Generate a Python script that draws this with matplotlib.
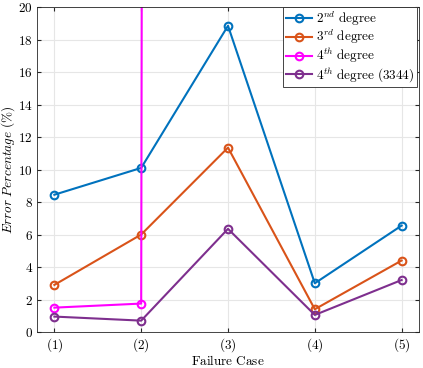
import numpy as np
import matplotlib
matplotlib.use("Agg")
import matplotlib.pyplot as plt

plt.rcParams['mathtext.fontset'] = 'cm'
plt.rcParams['font.family'] = 'serif'
plt.rcParams['font.serif'] = ['DejaVu Serif']

cases = [1, 2, 3, 4, 5]
case_labels = ['(1)', '(2)', '(3)', '(4)', '(5)']
deg2 = [8.45, 10.1, 18.85, 3.0, 6.55]
deg3 = [2.9, 6.0, 11.35, 1.4, 4.4]
deg4 = [1.5, 1.75, 3000.0, np.nan, np.nan]
deg4_3344 = [0.95, 0.7, 6.35, 1.05, 3.2]
yticks = [0, 2, 4, 6, 8, 10, 12, 14, 16, 18, 20]

fig = plt.figure(figsize=(4.23, 3.68), dpi=100)
ax = fig.add_axes([0.0875, 0.0978, 0.903, 0.883])

series = [
    (deg2, '#0072BD', r'$2^{nd}\ \mathrm{degree}$'),
    (deg3, '#D95319', r'$3^{rd}\ \mathrm{degree}$'),
    (deg4, '#FF00FF', r'$4^{th}\ \mathrm{degree}$'),
    (deg4_3344, '#7E2F8E', r'$4^{th}\ \mathrm{degree\ (3344)}$'),
]
for vals, col, lab in series:
    ax.plot(cases, vals, color=col, lw=1.5, marker='o', ms=5.5,
            mfc='none', mew=1.5, label=lab)

ax.set_xlim(0.8, 5.2)
ax.set_ylim(0, 20)
ax.set_xticks(cases)
ax.set_xticklabels([r'$\mathrm{%s}$' % c for c in case_labels], fontsize=9.5)
ax.set_yticks(yticks)
ax.set_yticklabels([r'$%d$' % v for v in yticks], fontsize=9.5)
ax.tick_params(direction='in', top=True, right=True, length=3, pad=3,
               color='#262626')
ax.grid(True, color='#e6e6e6', lw=0.8)
ax.set_axisbelow(True)
for s in ax.spines.values():
    s.set_color('#262626')
    s.set_linewidth(0.6)

ax.set_xlabel(r'$\mathrm{Failure\ Case}$', fontsize=9.5, labelpad=0)
ax.set_ylabel(r'$Error\ Percentage\ (\%)$', fontsize=9.5, labelpad=1)

leg = ax.legend(loc='upper right', bbox_to_anchor=(0.995, 1.0), fontsize=9.5,
                fancybox=False, edgecolor='#262626', framealpha=1,
                borderpad=0.2, labelspacing=0.0, handlelength=2.0,
                handletextpad=0.3, borderaxespad=0.0)
leg.get_frame().set_linewidth(0.6)

fig.savefig('out.png', dpi=100)
